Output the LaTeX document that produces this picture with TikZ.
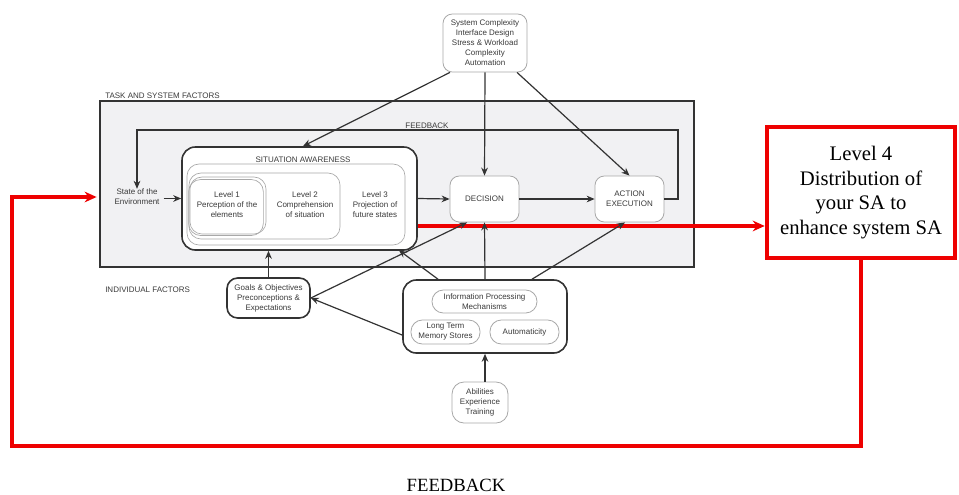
\documentclass[tikz,border=0pt]{standalone}
\usepackage{fontspec}
\setmainfont{Liberation Serif}
\newfontfamily\arialf{Liberation Sans}
\usetikzlibrary{arrows.meta,calc}
\definecolor{ln}{HTML}{333333}
\definecolor{txt}{HTML}{3A3A3A}
\definecolor{lgb}{HTML}{A8A8A8}
\definecolor{tsfill}{HTML}{F1F1F3}
\definecolor{redl}{HTML}{EE0000}
\begin{document}
\begin{tikzpicture}[x=0.75pt,y=-0.75pt,
  every node/.style={font=\arialf\fontsize{6}{7.5}\selectfont, text=txt, align=center, inner sep=0pt},
  softbox/.style={draw=lgb, line width=0.6pt, fill=white, rounded corners=7pt},
  hardbox/.style={draw=ln, line width=1.2pt, fill=white, rounded corners=8pt},
  innerbox/.style={draw=lgb, line width=0.5pt, rounded corners=9pt},
  conn/.style={draw=ln, line width=0.9pt, -{Stealth[length=6pt,width=5pt]}},
  redconn/.style={draw=redl, line width=2.4pt, -{Stealth[length=9pt,width=8pt]}},
  lbl/.style={anchor=west}
]
\useasboundingbox (0,0) rectangle (959,494);

% task and system factors frame
\node[draw=ln, line width=1.1pt, fill=tsfill, minimum width=445.5pt, minimum height=124.5pt] (tsf) at (397,184) {};
\node[lbl] (tsflbl) at (105,96) {TASK AND SYSTEM FACTORS};
\node[lbl] (indlbl) at (105,290) {INDIVIDUAL FACTORS};

% top box
\node[softbox, minimum width=63pt, minimum height=43.5pt] (top) at (485,43)
  {System Complexity\\Interface Design\\Stress \& Workload\\Complexity\\Automation};

% situation awareness
\node[hardbox, rounded corners=10pt, minimum width=176.25pt, minimum height=77.25pt] (sa) at (299.5,198.5) {};
\node (satitle) at (303,160) {SITUATION AWARENESS};
\node[innerbox, minimum width=163.5pt, minimum height=60.75pt] (inA) at (296,204.5) {};
\node[innerbox, minimum width=113.25pt, minimum height=49.5pt] (inB) at (264.5,206) {};
\node[innerbox, minimum width=56pt, minimum height=42pt] (inC2) at (226,207.5) {};
\node[innerbox, minimum width=57pt, minimum height=42.75pt] (inC) at (228,205.5) {};
\node (lv1) at (227,205) {Level 1\\Perception of the\\elements};
\node (lv2) at (305,205) {Level 2\\Comprehension\\of situation};
\node (lv3) at (375,205) {Level 3\\Projection of\\future states};

\node (env) at (137,197) {State of the\\Environment};

\node[softbox, minimum width=51.75pt, minimum height=34.5pt] (dec) at (484.5,199) {DECISION};
\node[softbox, minimum width=51.75pt, minimum height=34.5pt] (act) at (629.5,199) {ACTION\\EXECUTION};

\coordinate (fb) at (678,130);
\node (fblbl) at (427,126) {FEEDBACK};

% level 4
\node[draw=redl, line width=3.4pt, fill=white, minimum width=141pt, minimum height=98.25pt,
  font=\fontsize{15.5}{18.5}\selectfont, text=black] (l4) at (861,192.5)
  {Level 4\\Distribution of\\your SA to\\enhance system SA};

% individual factors
\node[hardbox, minimum width=62.25pt, minimum height=30pt] (goals) at (268.5,298)
  {Goals \& Objectives\\Preconceptions \&\\Expectations};
\node[hardbox, rounded corners=10pt, minimum width=123pt, minimum height=54.75pt] (ind) at (485,316.5) {};
\node[softbox, rounded corners=8.5pt, minimum width=78.75pt, minimum height=17.25pt] (info) at (484.5,301.5)
  {Information Processing\\Mechanisms};
\node[softbox, rounded corners=8.5pt, minimum width=51.75pt, minimum height=18pt] (ltm) at (445.5,332)
  {Long Term\\Memory Stores};
\node[softbox, rounded corners=8.5pt, minimum width=51.75pt, minimum height=18pt] (auto) at (524.5,332)
  {Automaticity};
\node[softbox, rounded corners=9pt, minimum width=42pt, minimum height=30.75pt] (abil) at (480,402.5)
  {Abilities\\Experience\\Training};

% red connectors (drawn first so arrowheads of black connectors remain visible)
\draw[redconn] ([yshift=-20.6pt]sa.east) -- ([yshift=-20.6pt]sa.east -| l4.west);
\coordinate (rbl) at (12,446);
\draw[redconn] (l4.south) |- (rbl) |- ([xshift=-2pt]env.west -| tsf.west);

% connectors from top box
\draw[conn] ([xshift=-26.25pt]top.south) -- ([xshift=2.6pt]sa.north);
\draw[conn] (top.south) -- (dec.north);
\draw[conn] ([xshift=24pt]top.south) -- (act.north);

% main flow
\draw[conn] (env.east |- sa.west) ++(3pt,0) -- (sa.west);
\draw[conn] (sa.east) -- (dec.west);
\draw[conn] (dec.east) -- (act.west);
\draw[conn] (act.east) -| (fb) -| (env.north);

% individual factors connectors
\draw[conn] (goals.north) -- (goals.north |- sa.south);
\draw[conn] (goals.east) -- ([xshift=-13pt]dec.south);
\draw[conn] ([yshift=-13.9pt]ind.west) -- (goals.east);
\draw[conn] ([xshift=-35.25pt]ind.north) -- ([xshift=-14.25pt,yshift=0.5pt]sa.south east);
\draw[conn] (ind.north) -- (dec.south);
\draw[conn] ([xshift=35.25pt]ind.north) -- ([xshift=-3.4pt]act.south);
\draw[conn] (abil.north -| ind.south) -- (ind.south);

\node[font=\fontsize{14}{16}\selectfont, text=black] (fbbottom) at (456,485) {FEEDBACK};
\end{tikzpicture}
\end{document}
